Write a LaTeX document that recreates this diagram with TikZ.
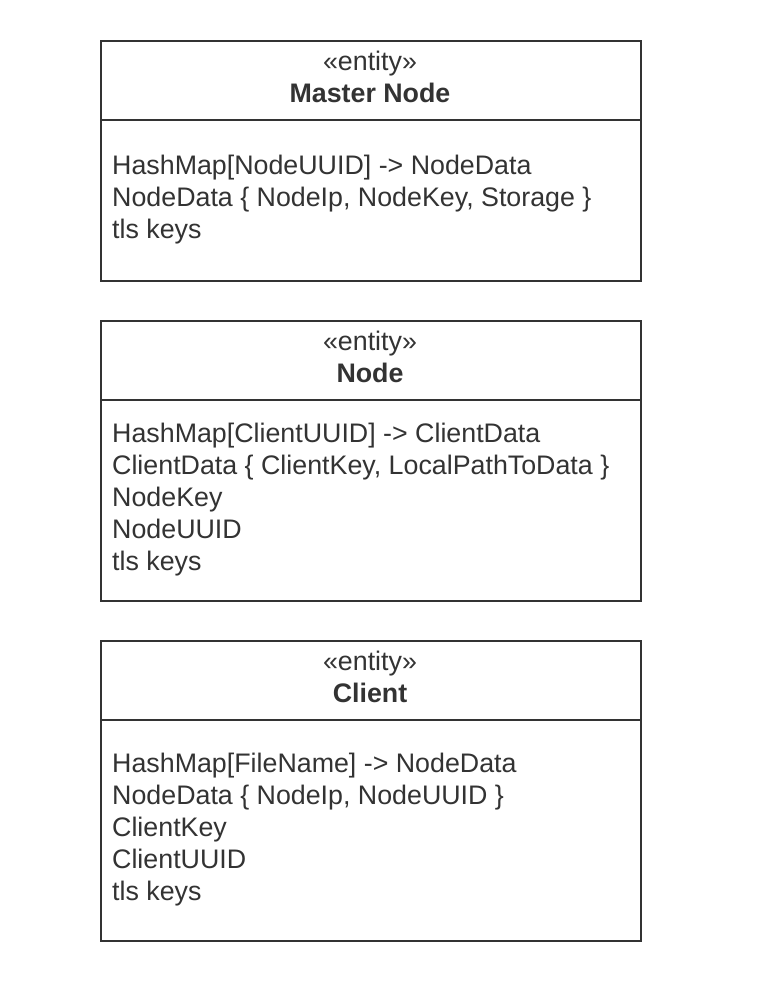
\documentclass[tikz,border=0pt]{standalone}
\usepackage{fontspec}
\setmainfont{Liberation Sans}
\definecolor{ink}{HTML}{333333}
\tikzset{
  x=1pt, y=-1pt,
  entitybox/.style={draw=ink, line width=2pt, fill=white, rectangle, inner sep=0pt, anchor=north west, minimum width=540pt},
  divider/.style={draw=ink, line width=2pt},
  stereo/.style={text=ink, inner sep=0pt, anchor=base, font=\fontsize{26.8}{32}\selectfont},
  ename/.style={text=ink, inner sep=0pt, anchor=base, font=\fontsize{26.8}{32}\selectfont\bfseries},
  attr/.style={text=ink, inner sep=0pt, anchor=base west, font=\fontsize{26.8}{32}\selectfont},
}
\begin{document}
\begin{tikzpicture}
\useasboundingbox[fill=white] (0,0) rectangle (782,997);

% Master Node
\node[entitybox, minimum height=240pt] (master) at (100,40) {};
\coordinate (mdl) at (100,120);
\coordinate (mdr) at (640,120);
\draw[divider] (mdl) -- (mdr);
\node[stereo] (mst) at (370,70) {«entity»};
\node[ename] (mnm) at (370,102) {Master Node};
\node[attr] (ma1) at (112,174) {HashMap[NodeUUID] -> NodeData};
\node[attr] (ma2) at (112,206) {NodeData \{ NodeIp, NodeKey, Storage \}};
\node[attr] (ma3) at (112,238) {tls keys};

% Node
\node[entitybox, minimum height=280pt] (node) at (100,320) {};
\coordinate (ndl) at (100,400);
\coordinate (ndr) at (640,400);
\draw[divider] (ndl) -- (ndr);
\node[stereo] (nst) at (370,350) {«entity»};
\node[ename] (nnm) at (370,382) {Node};
\node[attr] (na1) at (112,442) {HashMap[ClientUUID] -> ClientData};
\node[attr] (na2) at (112,474) {ClientData \{ ClientKey, LocalPathToData \}};
\node[attr] (na3) at (112,506) {NodeKey};
\node[attr] (na4) at (112,538) {NodeUUID};
\node[attr] (na5) at (112,570) {tls keys};

% Client
\node[entitybox, minimum height=300pt] (client) at (100,640) {};
\coordinate (cdl) at (100,720);
\coordinate (cdr) at (640,720);
\draw[divider] (cdl) -- (cdr);
\node[stereo] (cst) at (370,670) {«entity»};
\node[ename] (cnm) at (370,702) {Client};
\node[attr] (ca1) at (112,772) {HashMap[FileName] -> NodeData};
\node[attr] (ca2) at (112,804) {NodeData \{ NodeIp, NodeUUID \}};
\node[attr] (ca3) at (112,836) {ClientKey};
\node[attr] (ca4) at (112,868) {ClientUUID};
\node[attr] (ca5) at (112,900) {tls keys};
\end{tikzpicture}
\end{document}
